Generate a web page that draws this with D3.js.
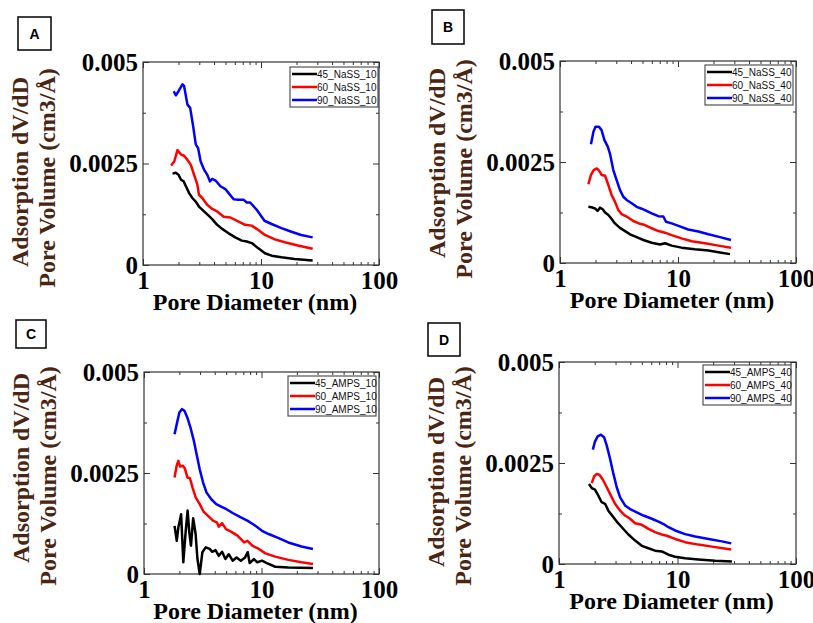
<!DOCTYPE html>
<html>
<head>
<meta charset="utf-8">
<script src="https://cdn.jsdelivr.net/npm/d3@7"></script>
<style>
  body { margin: 0; background: #fff; }
  svg text.serif { font-family: "Liberation Serif", "Times New Roman", Times, "DejaVu Serif", serif; font-weight: bold; }
  svg text.sans { font-family: "Liberation Sans", Arial, Helvetica, sans-serif; }
</style>
</head>
<body>
<div id="chart"></div>
<script>
// --- Axis ticks ---
const xTicksMajor = [1, 10, 100];
const xTickLabels = ["1", "10", "100"];
const xTicksMinor = [2, 3, 4, 5, 6, 7, 8, 9, 20, 30, 40, 50, 60, 70, 80, 90];
const yTicksMajor = [0, 0.0025, 0.005];
const yTickLabels = ["0", "0.0025", "0.005"];
const yTicksMinor = [0.00125, 0.00375];
const seriesColors = ["#000000", "#ff0000", "#0000ff"];

// --- Legends ---
const namesA = ["45_NaSS_10", "60_NaSS_10", "90_NaSS_10"];
const namesB = ["45_NaSS_40", "60_NaSS_40", "90_NaSS_40"];
const namesC = ["45_AMPS_10", "60_AMPS_10", "90_AMPS_10"];
const namesD = ["45_AMPS_40", "60_AMPS_40", "90_AMPS_40"];

// --- Panel A: NaSS 10 (pore diameter nm, dV/dD) ---
const a45 = [[1.78,.00225],[1.90,.00227],[2.0,.00222],[2.10,.0021],[2.21,.00206],[2.31,.00194],[2.46,.00177],[2.62,.00165],[2.80,.00156],[2.98,.00144],[3.29,.00132],[3.62,.00121],[3.86,.00113],[4.25,.00099],[4.68,.00089],[5.32,.00078],[6.05,.00068],[6.88,.0006],[7.58,.00058],[8.35,.00054],[9.50,.00041],[10.8,.00029],[12.3,.00023],[14.9,.00019],[19.3,.00015],[27.4,.00011]];
const a60 = [[1.73,.00245],[1.84,.00255],[1.96,.00283],[2.10,.00272],[2.23,.00269],[2.38,.00259],[2.54,.00247],[2.71,.00222],[2.89,.00198],[2.98,.00173],[3.18,.00165],[3.51,.00148],[3.86,.00138],[4.25,.00132],[4.83,.00119],[5.50,.00117],[6.46,.00107],[7.34,.00099],[8.35,.00097],[9.50,.00086],[10.8,.00074],[13.1,.00063],[15.9,.00056],[20.5,.00048],[27.4,.0004]];
const a90 = [[1.82,.00428],[1.90,.00418],[2.0,.00428],[2.16,.00445],[2.23,.00441],[2.38,.00395],[2.51,.00387],[2.66,.00342],[2.80,.00297],[2.93,.00288],[3.08,.00255],[3.29,.00235],[3.51,.00222],[3.69,.00206],[3.86,.00212],[4.12,.00208],[4.53,.00194],[4.99,.00187],[5.32,.00177],[5.86,.00162],[6.25,.00161],[7.11,.00161],[7.58,.00154],[8.09,.00154],[9.20,.00136],[10.7,.00109],[12.3,.00101],[14.9,.00091],[18.1,.00082],[21.9,.00074],[27.4,.00068]];

// --- Panel B: NaSS 40 ---
const b45 = [[1.74,.00139],[1.85,.00138],[1.98,.00135],[2.08,.00129],[2.18,.00137],[2.30,.00133],[2.41,.00125],[2.57,.00119],[2.74,.00109],[2.92,.00098],[3.22,.00087],[3.56,.00079],[3.92,.00071],[4.46,.00064],[5.09,.00057],[5.98,.0005],[7.04,.00046],[7.76,.00049],[8.83,.00043],[10.7,.00038],[13.9,.00034],[18.1,.00031],[22.7,.00026],[27.6,.00022]];
const b60 = [[1.74,.00195],[1.83,.00218],[1.93,.0023],[2.05,.00234],[2.15,.00228],[2.25,.00218],[2.41,.00216],[2.57,.00193],[2.74,.00168],[2.92,.00152],[3.12,.00131],[3.33,.00121],[3.67,.00115],[4.18,.00104],[4.76,.00097],[5.25,.00094],[5.98,.00086],[6.81,.00079],[7.76,.00075],[8.83,.00069],[10.7,.00061],[13.1,.00054],[16.9,.00049],[22.0,.00043],[28.1,.00038]];
const b90 = [[1.83,.00294],[1.92,.00325],[2.0,.00337],[2.14,.00337],[2.25,.00329],[2.38,.00304],[2.54,.00288],[2.65,.00271],[2.83,.0023],[3.02,.00205],[3.22,.00181],[3.44,.00164],[3.67,.00156],[4.05,.00148],[4.46,.00139],[4.86,.00135],[5.25,.00131],[5.98,.00123],[6.81,.00116],[7.51,.00115],[7.91,.00102],[8.83,.00098],[10.1,.00092],[12.2,.00083],[14.9,.00078],[18.1,.00071],[22.7,.00064],[28.1,.00057]];

// --- Panel C: AMPS 10 ---
const c45 = [[1.82,.00119],[1.90,.00082],[1.96,.00115],[2.07,.00148],[2.16,.00029],[2.26,.00103],[2.35,.00157],[2.43,.00103],[2.51,.0007],[2.62,.00138],[2.75,.00099],[2.85,.00037],[2.98,0],[3.14,.00054],[3.35,.00066],[3.62,.00062],[3.81,.00055],[4.06,.00059],[4.33,.00045],[4.62,.00055],[4.93,.00037],[5.26,.00049],[5.68,.00033],[6.13,.00041],[6.67,.00033],[7.25,.00041],[7.64,.00054],[7.93,.00027],[8.62,.00037],[9.20,.00029],[10.1,.00033],[11.1,.00027],[13.1,.00018],[16.9,.00016],[27.4,.00015]];
const c60 = [[1.82,.00239],[1.90,.00269],[1.96,.0028],[2.03,.00266],[2.14,.00268],[2.23,.00261],[2.34,.00239],[2.46,.00237],[2.59,.00214],[2.76,.00189],[2.98,.00173],[3.22,.00154],[3.51,.00144],[3.86,.00132],[4.17,.00128],[4.33,.00117],[4.62,.00126],[4.99,.00111],[5.50,.00105],[6.25,.00095],[7.11,.00078],[7.58,.00082],[8.35,.0007],[9.50,.00062],[10.8,.00051],[13.1,.00043],[16.9,.00035],[21.9,.00029],[27.4,.00025]];
const c90 = [[1.82,.00346],[1.90,.00371],[2.0,.0040],[2.10,.00408],[2.21,.00404],[2.34,.00387],[2.49,.00362],[2.66,.00329],[2.80,.00297],[2.98,.00259],[3.18,.00227],[3.40,.00202],[3.74,.00185],[4.12,.00173],[4.53,.00167],[4.99,.00161],[5.68,.00151],[6.67,.0014],[7.58,.00132],[8.62,.00122],[10.1,.00107],[11.5,.00099],[14.0,.00089],[16.9,.00078],[21.9,.00068],[27.4,.00062]];

// --- Panel D: AMPS 40 ---
const d45 = [[1.79,.00198],[1.89,.00188],[2.01,.00184],[2.15,.00169],[2.29,.00153],[2.45,.00149],[2.61,.00132],[2.79,.00121],[3.07,.00105],[3.39,.00091],[3.85,.00073],[4.39,.00058],[5.0,.00045],[5.69,.00039],[6.47,.00033],[7.37,.00031],[8.39,.00023],[9.55,.00018],[11.6,.00014],[15.0,.00011],[20.8,.00008],[28.8,.00006]];
const d60 = [[1.89,.002],[1.98,.00217],[2.08,.00223],[2.19,.00221],[2.32,.00211],[2.45,.00198],[2.61,.00182],[2.79,.00165],[2.97,.00149],[3.28,.00132],[3.61,.0012],[3.98,.00112],[4.39,.00101],[5.0,.00097],[5.69,.00087],[6.47,.00079],[7.37,.00073],[8.12,.0007],[9.55,.00062],[11.6,.00054],[15.0,.00048],[19.5,.00043],[28.4,.00036]];
const d90 = [[1.93,.00283],[2.01,.00303],[2.12,.00316],[2.26,.0032],[2.40,.00314],[2.53,.00293],[2.70,.0026],[2.88,.00223],[3.07,.0019],[3.28,.00165],[3.61,.00145],[3.98,.00136],[4.53,.00128],[5.16,.0012],[6.07,.00112],[6.91,.00105],[7.62,.00099],[8.39,.00091],[9.55,.00083],[11.6,.00074],[14.1,.00068],[18.3,.00062],[23.7,.00056],[28.4,.00051]];

// --- Panel layout ---
const panels = [
  { letter: "A", left: 143, top: 62, right: 379, bottom: 265, box: [18, 17, 33, 33], legend: [290, 67], ylab: [172, 178], names: namesA, series: [a45, a60, a90] },
  { letter: "B", left: 560, top: 61, right: 796, bottom: 263, box: [432, 10, 32, 34], legend: [705, 65], ylab: [163, 169], names: namesB, series: [b45, b60, b90] },
  { letter: "C", left: 144, top: 372, right: 379, bottom: 574, box: [16, 320, 30, 28], legend: [288, 376], ylab: [468, 476], names: namesC, series: [c45, c60, c90] },
  { letter: "D", left: 559, top: 362, right: 796, bottom: 564, box: [428, 323, 32, 33], legend: [703, 365], ylab: [472, 476], names: namesD, series: [d45, d60, d90] }
];

const svg = d3.select("#chart").append("svg")
  .attr("width", 813)
  .attr("height", 623);

panels.forEach(p => {
  const x = d3.scaleLog().domain([1, 100]).range([p.left, p.right]);
  const y = d3.scaleLinear().domain([0, 0.005]).range([p.bottom, p.top]);
  const g = svg.append("g");

  // panel letter box
  g.append("rect")
    .attr("x", p.box[0]).attr("y", p.box[1])
    .attr("width", p.box[2]).attr("height", p.box[3])
    .attr("fill", "#fff").attr("stroke", "#000").attr("stroke-width", 1.5);
  g.append("text").attr("class", "sans")
    .attr("x", p.box[0] + p.box[2] / 2).attr("y", p.box[1] + p.box[3] / 2 + 5)
    .attr("text-anchor", "middle")
    .style("font-weight", "bold").style("font-size", "14px")
    .text(p.letter);

  // axes (inward ticks on all four sides)
  const styleAxis = sel => {
    sel.attr("font-family", null).attr("font-size", null);
    sel.select(".domain").remove();
    sel.selectAll("line").attr("stroke", "#333");
    sel.selectAll("text").attr("class", "serif")
      .style("font-size", "25px").attr("fill", "#000");
  };

  g.append("g").attr("transform", `translate(0,${p.bottom})`)
    .call(d3.axisBottom(x).tickValues(xTicksMajor).tickFormat((d, i) => xTickLabels[i]).tickSize(-6).tickPadding(6))
    .call(styleAxis);
  g.append("g").attr("transform", `translate(0,${p.bottom})`)
    .call(d3.axisBottom(x).tickValues(xTicksMinor).tickFormat("").tickSize(-3))
    .call(styleAxis);
  g.append("g").attr("transform", `translate(0,${p.top})`)
    .call(d3.axisTop(x).tickValues(xTicksMajor).tickFormat("").tickSize(-6))
    .call(styleAxis);
  g.append("g").attr("transform", `translate(0,${p.top})`)
    .call(d3.axisTop(x).tickValues(xTicksMinor).tickFormat("").tickSize(-3))
    .call(styleAxis);

  g.append("g").attr("transform", `translate(${p.left},0)`)
    .call(d3.axisLeft(y).tickValues(yTicksMajor).tickFormat((d, i) => yTickLabels[i]).tickSize(-6).tickPadding(5))
    .call(styleAxis);
  g.append("g").attr("transform", `translate(${p.left},0)`)
    .call(d3.axisLeft(y).tickValues(yTicksMinor).tickFormat("").tickSize(-3))
    .call(styleAxis);
  g.append("g").attr("transform", `translate(${p.right},0)`)
    .call(d3.axisRight(y).tickValues(yTicksMajor).tickFormat("").tickSize(-6))
    .call(styleAxis);
  g.append("g").attr("transform", `translate(${p.right},0)`)
    .call(d3.axisRight(y).tickValues(yTicksMinor).tickFormat("").tickSize(-3))
    .call(styleAxis);

  // frame
  g.append("rect")
    .attr("x", p.left).attr("y", p.top)
    .attr("width", p.right - p.left).attr("height", p.bottom - p.top)
    .attr("fill", "none").attr("stroke", "#333").attr("stroke-width", 1.2);

  // data lines
  const line = d3.line().x(d => x(d[0])).y(d => y(d[1]));
  p.series.forEach((s, i) => {
    g.append("path")
      .datum(s)
      .attr("d", line)
      .attr("fill", "none")
      .attr("stroke", seriesColors[i])
      .attr("stroke-width", 2.5)
      .attr("stroke-linejoin", "round");
  });

  // legend
  const lg = g.append("g").attr("transform", `translate(${p.legend[0]},${p.legend[1]})`);
  lg.append("rect").attr("width", 88).attr("height", 40)
    .attr("fill", "#fff").attr("stroke", "#333").attr("stroke-width", 1);
  p.names.forEach((name, i) => {
    const ry = 7 + i * 13;
    lg.append("line").attr("x1", 2).attr("x2", 27).attr("y1", ry).attr("y2", ry)
      .attr("stroke", seriesColors[i]).attr("stroke-width", 2.5);
    lg.append("text").attr("class", "sans").attr("x", 27).attr("y", ry + 4)
      .style("font-size", "10px").attr("fill", "#111")
      .text(name);
  });

  // axis titles
  g.append("text").attr("class", "serif")
    .attr("x", (p.left + p.right) / 2 - 6).attr("y", p.bottom + 45)
    .attr("text-anchor", "middle")
    .style("font-size", "24px")
    .text("Pore Diameter (nm)");

  g.append("text").attr("class", "serif")
    .attr("transform", `translate(${p.left - 115},${p.ylab[0]}) rotate(-90)`)
    .attr("text-anchor", "middle")
    .style("font-size", "24px")
    .attr("fill", "#4a2511")
    .text("Adsorption dV/dD");
  g.append("text").attr("class", "serif")
    .attr("transform", `translate(${p.left - 88},${p.ylab[1]}) rotate(-90)`)
    .attr("text-anchor", "middle")
    .style("font-size", "24px")
    .attr("fill", "#4a2511")
    .text("Pore Volume (cm3/Å)");
});
</script>
</body>
</html>
